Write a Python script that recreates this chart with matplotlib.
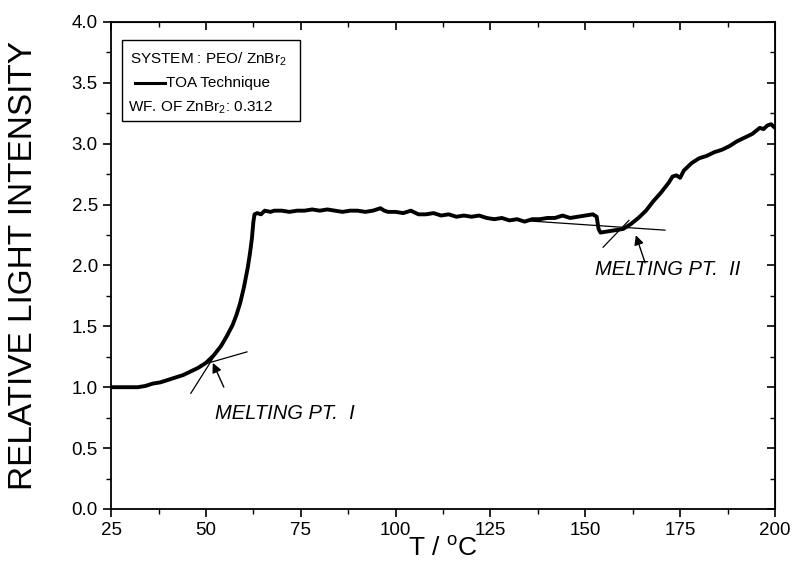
import matplotlib.pyplot as plt
import numpy as np
from matplotlib.ticker import MultipleLocator
from matplotlib.patches import Rectangle

plt.rcParams['font.family'] = ['Liberation Sans', 'DejaVu Sans']

# data
temp = [25, 28, 31, 32, 34, 36, 38, 40, 42, 44, 46, 48, 50, 52, 54, 55.5, 57, 58,
        59, 60, 61, 61.6, 62.1, 62.5, 62.8, 63.5, 64.5, 65.5, 67, 68, 70, 72, 74,
        76, 78, 80, 82, 84, 86, 88, 90, 92, 94, 96, 97, 98, 100, 102, 104, 106,
        108, 110, 112, 114, 116, 118, 120, 122, 124, 126, 128, 130, 132, 134, 136,
        138, 140, 142, 144, 146, 148, 150, 152, 153, 153.5, 154, 156, 158, 160,
        162, 164, 166, 168, 170, 172, 173, 174, 175, 176, 178, 180, 182, 184, 186,
        188, 190, 192, 194, 196, 197, 198, 199, 200]
intensity = [1.00, 1.00, 1.00, 1.00, 1.01, 1.03, 1.04, 1.06, 1.08, 1.10, 1.13, 1.16,
             1.20, 1.26, 1.34, 1.42, 1.51, 1.59, 1.69, 1.82, 1.98, 2.10, 2.22, 2.36,
             2.42, 2.43, 2.42, 2.45, 2.44, 2.45, 2.45, 2.44, 2.45, 2.45, 2.46, 2.45,
             2.46, 2.45, 2.44, 2.45, 2.45, 2.44, 2.45, 2.47, 2.45, 2.44, 2.44, 2.43,
             2.45, 2.42, 2.42, 2.43, 2.41, 2.42, 2.40, 2.41, 2.40, 2.41, 2.39, 2.38,
             2.39, 2.37, 2.38, 2.36, 2.38, 2.38, 2.39, 2.39, 2.41, 2.39, 2.40, 2.41,
             2.42, 2.40, 2.30, 2.27, 2.28, 2.29, 2.30, 2.34, 2.39, 2.45, 2.53, 2.60,
             2.68, 2.73, 2.74, 2.72, 2.78, 2.84, 2.88, 2.90, 2.93, 2.95, 2.98, 3.02,
             3.05, 3.08, 3.13, 3.12, 3.15, 3.16, 3.13]

# tangent lines
tan1a_x, tan1a_y = [46, 53.5], [0.95, 1.32]
tan1b_x, tan1b_y = [48.5, 60.8], [1.18, 1.29]
tan2a_x, tan2a_y = [126, 171], [2.385, 2.29]
tan2b_x, tan2b_y = [154.7, 161.5], [2.15, 2.37]

fig = plt.figure(figsize=(7.94, 5.63), dpi=100)
ax = fig.add_axes([0.140, 0.096, 0.836, 0.865])

ax.plot(temp, intensity, color='k', lw=2.8)
ax.plot(tan1a_x, tan1a_y, color='k', lw=0.9)
ax.plot(tan1b_x, tan1b_y, color='k', lw=0.9)
ax.plot(tan2a_x, tan2a_y, color='k', lw=0.9)
ax.plot(tan2b_x, tan2b_y, color='k', lw=0.9)

ax.annotate('', xy=(51.5, 1.22), xytext=(55, 0.98),
            arrowprops=dict(arrowstyle='-|>', color='k', lw=1.0, mutation_scale=14))
ax.annotate('', xy=(163.1, 2.27), xytext=(166.0, 2.00),
            arrowprops=dict(arrowstyle='-|>', color='k', lw=1.0, mutation_scale=14))

ax.text(52.5, 0.78, 'MELTING PT.  I', style='italic', fontsize=14.5, va='center')
ax.text(152.5, 1.97, 'MELTING PT.  II', style='italic', fontsize=14.5, va='center')

ax.set_xlim(25, 200)
ax.set_ylim(0, 4.0)
ax.xaxis.set_major_locator(MultipleLocator(25))
ax.xaxis.set_minor_locator(MultipleLocator(12.5))
ax.yaxis.set_major_locator(MultipleLocator(0.5))
ax.yaxis.set_minor_locator(MultipleLocator(0.25))
ax.yaxis.set_major_formatter(plt.FormatStrFormatter('%.1f'))
ax.tick_params(which='major', direction='out', length=6, width=1.2, labelsize=13.5)
ax.tick_params(which='minor', direction='out', length=3.5, width=1.0)
for s in ax.spines.values():
    s.set_linewidth(1.3)

# mirrored ticks on top / right pointing inward
top = ax.secondary_xaxis('top')
top.xaxis.set_major_locator(MultipleLocator(25))
top.xaxis.set_minor_locator(MultipleLocator(12.5))
top.tick_params(which='major', direction='in', length=6, width=1.2, labeltop=False)
top.tick_params(which='minor', direction='in', length=3.5, width=1.0)
right = ax.secondary_yaxis('right')
right.yaxis.set_major_locator(MultipleLocator(0.5))
right.yaxis.set_minor_locator(MultipleLocator(0.25))
right.tick_params(which='major', direction='in', length=6, width=1.2, labelright=False)
right.tick_params(which='minor', direction='in', length=3.5, width=1.0)

ax.set_xlabel('T / $^{\\mathregular{o}}$C', fontsize=19)
ax.set_ylabel('RELATIVE LIGHT INTENSITY', fontsize=24)
ax.xaxis.set_label_coords(0.5, -0.056)
ax.yaxis.set_label_coords(-0.108, 0.5)

# legend box
ax.add_patch(Rectangle((0.017, 0.797), 0.268, 0.166, transform=ax.transAxes,
                       fill=False, ec='k', lw=1.0))
ax.text(0.029, 0.924, 'SYSTEM : PEO/ ZnBr$_\\mathregular{2}$', transform=ax.transAxes,
        fontsize=11, va='center')
ax.plot([0.036, 0.081], [0.875, 0.875], transform=ax.transAxes, color='k', lw=2.2)
ax.text(0.083, 0.875, 'TOA Technique', transform=ax.transAxes, fontsize=11, va='center')
ax.text(0.026, 0.825, 'WF. OF ZnBr$_\\mathregular{2}$: 0.312', transform=ax.transAxes,
        fontsize=11, va='center')

fig.savefig('out.png', dpi=100)
